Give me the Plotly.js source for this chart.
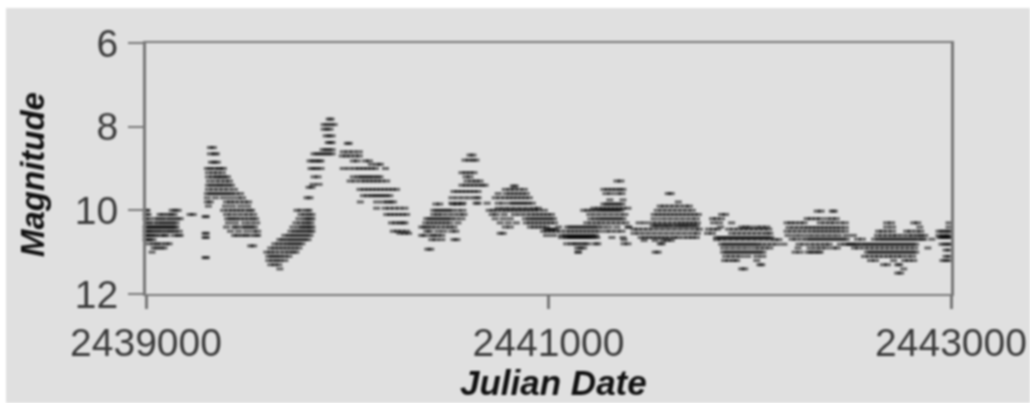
<!DOCTYPE html>
<html><head><meta charset="utf-8">
<script src="https://cdn.plot.ly/plotly-3.0.1.min.js"></script>
<style>
html,body{margin:0;padding:0;background:#fff;overflow:hidden}
#chart{position:absolute;left:6px;top:8px;width:1024px;height:395px;filter:blur(0.8px)}
</style></head><body><div id="chart"></div>
<script>
// Each row: [magnitude, days since JD 2439000 ...]
const jdBase = 2439000;
const tickX = [2439000, 2441000, 2443000];
const tickXLabels = ['2439000', '2441000', '2443000'];
const tickY = [6, 8, 10, 12];
const season1 = [
[10.0,0,5,130,145,160],[10.1,0,10,70,85,110,125,140],[10.2,0,12,45,65,80,100,120,135,155,170],
[10.3,5,15,40,60,75,90,105,120,135,150],[10.4,0,10,20,30,40,50,60,70,80,90,100,110,120,130,140,150],
[10.5,0,10,20,35,50,65,80,100,115,130,145,165],[10.6,0,5,15,25,40,50,75,90,100,140,160,170],
[10.7,0,10,20,35],[10.8,15,40,55,75,100,115],[10.9,40,55,75,90],[11.0,30]];
const season2 = [
[10.1,219,235],[10.15,293,300],[10.55,293,300],[10.65,293,300],[11.13,293,300],
[8.5,320,335],[8.65,320,340,350],[8.85,325,340,355],[9.0,305,320,340,360,370,385],
[9.1,310,335,355,380],[9.2,310,330,350,360,375,390,405],[9.3,315,345,370,395,415],
[9.4,310,325,345,360,375,390,410,425],[9.5,310,335,360,385,410,440],
[9.6,305,320,335,350,365,380,395,410,425,445,470],[9.7,305,345,385,420,455,480],
[9.8,305,320,400,420,440,465,490,510],[9.9,310,395,430,470,505],[10.0,385,410,430,450,470,490,515,525],
[10.1,400,425,455,485,510,535],[10.2,405,420,435,450,470,490,510,530,545],[10.3,410,445,490,520,550],
[10.4,400,440,450,480,495,510,525,540],[10.5,420,460,500,535,555],[10.6,440,455,480,495,515,545,555],
[10.85,520,535]];
const season3 = [
[9.45,810,825],[9.7,800,815],
[10.0,750,770,800,810],[10.1,770,790,810,825],[10.2,760,790,800,815,825],[10.3,745,770,790,805,820],
[10.4,730,760,775,790,800,815,825],[10.5,720,740,755,770,785,800,815,825],
[10.6,690,710,725,740,755,770,785,800,815],[10.7,665,680,700,715,730,745,760,775,790,805],
[10.8,640,660,680,700,715,730,745,760,775],[10.9,620,640,660,680,700,720,740,760],
[11.0,600,620,640,665,690,710,730,745],[11.1,610,625,640,655,670,690,710],
[11.2,610,630,650,665,690],[11.3,620,640,660],[11.4,665],
[9.38,830,860],[9.2,835,855],[9.0,820,835,850,870],[8.82,815,830,845,860,870],
[8.65,835,850,865,880,895,910,925],[8.55,880,895,910,925],[8.38,905,915,925],
[8.22,895,910,925],[8.06,885,900,915],[7.95,885,900,920,935],[7.82,910,920]];
const season4 = [
[8.4,1000,1010],[8.6,980,1005,1030,1060],[8.7,975,995,1015,1040,1060],[8.82,1030,1050,1090,1110],
[8.9,1120,1150,1165],[9.0,980,1010,1040,1060,1080,1100,1120,1140,1190],[9.2,1030,1055,1070,1085,1100,1115,1130,1150,1163],
[9.3,1014,1040,1070,1090,1110,1130,1150,1170,1196],[9.5,1063,1085,1105,1125,1145,1165,1185,1205,1225,1245],
[9.65,1080,1100,1120,1135,1150,1165,1180,1195,1212],[9.8,1065,1146,1180,1200,1215,1230],
[9.95,1146,1188,1210,1235,1260,1287],[10.1,1196,1215,1235,1255,1275,1295],[10.3,1220,1240,1260,1275,1287],
[10.5,1229,1250,1270,1295],[10.55,1262,1285,1305]];
const season5 = [
[9.85,1440,1460,1525,1545,1570],[10.0,1430,1445,1460,1475,1490,1505,1520,1550,1575],
[10.1,1430,1450,1470,1500,1530,1560,1580],[10.2,1395,1410,1425,1440,1455,1470,1485,1500,1515,1540,1570],
[10.3,1390,1410,1430,1450,1470,1490,1510,1550],[10.4,1370,1385,1400,1420,1440,1465,1490,1510,1530],
[10.5,1395,1410,1450,1480,1520,1540],[10.6,1370,1385,1420,1430,1450,1470],[10.7,1420,1440,1470,1530,1545],
[10.93,1400,1415],
[8.68,1610,1625],[8.8,1585,1605,1625,1640],[9.1,1570,1590,1610,1630],[9.2,1590,1610],
[9.3,1595,1620,1640,1660],[9.4,1570,1590,1610,1630,1650,1670,1685],[9.55,1530,1550,1570,1590,1610,1630,1650],
[9.7,1520,1550,1580,1610,1640,1650],[9.83,1520,1550,1575,1640,1650,1695]];
const season6 = [
[9.42,1825,1835],[9.5,1785,1810,1830,1855,1880],[9.6,1750,1790,1810,1830,1850,1870,1890],
[9.7,1735,1760,1785,1805,1825,1845,1865,1885,1905],[9.83,1750,1775,1810,1825,1840,1855,1870,1885,1900,1920],
[9.95,1750,1780,1810,1840,1870,1900,1930,1950],[10.0,1705,1725,1745,1770,1790,1810,1830,1850,1870,1890,1910,1930,1950,1980],
[10.1,1720,1740,1780,1830,1860,1890,1915,1935,1955,1975,1995,2015],[10.2,1735,1775,1810,1885,1905,1920,1935,1950,1965,1980,1995,2010,2025],
[10.3,1760,1800,1840,1890,1910,1930,1950,1970,1990,2010,2030],[10.4,1785,1810,1910,1930,1950,1970,1990],
[10.45,1990,2005,2020,2035],[10.55,1760,1775]];
const season7 = [
[10.4,2050,2095,2110,2125,2140,2155,2170,2185,2200,2215,2230,2245],
[10.5,1975,1995,2015,2035,2060,2090,2110,2130,2150,2170,2190,2210,2230,2250],
[10.6,1990,2025,2065,2085,2100,2115,2130,2145,2160,2175,2190,2205,2220,2235],
[10.65,2065,2090,2100,2110,2120,2130,2140,2150,2160,2170,2180,2190,2200,2210,2225,2240],
[10.8,2090,2115,2130,2145,2165,2180,2195,2232,2245],[10.9,2145,2160,2175],[11.0,2145,2150]];
const season8 = [
[9.3,2340,2360],[9.5,2275,2295,2315,2335,2355,2370],[9.6,2285,2310,2345,2365],[9.75,2305,2370],
[9.85,2275,2290,2305,2320,2335,2350,2365],[9.95,2225,2250,2270,2290,2310,2330,2350,2370,2395],
[10.0,2175,2195,2215,2235,2255,2270,2285,2300,2315,2330,2345,2360],[10.1,2205,2235,2265,2295,2325,2355,2380],
[10.2,2210,2230,2250,2265,2280,2295,2310,2325,2340,2355,2370],[10.3,2190,2215,2240,2260,2285,2310,2335,2360,2385],
[10.4,2270,2300,2340,2395,2400],[10.5,2285,2310,2340,2365],[10.65,2315,2370],[10.7,2375],[10.8,2375,2395]];
const season9 = [
[9.6,2595,2610],[9.8,2645],[9.9,2555,2575,2600,2625,2650,2680,2700],[10.0,2540,2565,2590,2615,2640,2665,2690,2715],
[10.1,2525,2545,2565,2585,2605,2625,2645,2665,2685,2705,2725,2745],[10.2,2525,2560,2590,2620,2650,2680,2710,2735],
[10.3,2450,2480,2515,2540,2565,2590,2615,2640,2660,2680,2700,2720,2740],
[10.37,2520,2535,2550,2570,2585,2600,2620,2640,2655,2670,2685,2700,2720,2735],
[10.45,2425,2445,2470,2495,2520,2550,2580,2610,2640,2670,2700,2730,2750],
[10.55,2425,2450,2480,2510,2540,2570,2600,2630,2660,2690,2720,2740],
[10.65,2460,2480,2500,2520,2540,2560,2580,2600,2625,2640,2670,2695,2715,2735],
[10.72,2475,2530,2570,2590,2610],[10.8,2555,2565],[11.0,2530,2545]];
const season10 = [
[10.1,2860,2880],[10.2,2815,2835,2860],[10.3,2820,2850,2910],[10.4,2855,2960,2980,3000,3035,3060,3085],
[10.45,2795,2820,2840,2895,2920,2945,2970,2995,3020,3045,3070,3095],[10.55,2790,2815,2910,2935,2960,2985,3010,3035,3060,3085,3100],
[10.65,2835,2850,2865,2880,2895,2910,2925,2940,2955,2970,2985,3000,3015,3030,3045,3060,3075,3090,3105],
[10.7,2835,2860,2890,2920,2950,2980,3010,3040,3070,3100,3125,3145],
[10.81,2860,2875,2890,2905,2920,2935,2950,2965,2980,2995,3010,3025,3040,3060,3085,3110,3135,3170],
[10.9,2870,2900,2930,2960,2990,3025,3050,3075,3100],[11.0,2870,2885,2900,2915,2930,2945,2960,2975,2990,3005,3020,3035,3050,3065],
[11.1,2880,2905,2930,2955,2990,3035,3065],[11.2,2875,2895,2920,2935,3035],[11.3,3050,3060],[11.4,2960,2975]];
const season11 = [
[10.02,3335,3355,3410,3420],[10.2,3285,3305,3330,3350,3385,3410,3430],[10.3,3185,3205,3225,3250,3270,3350,3375,3400,3420,3450,3475],
[10.41,3195,3220,3245,3270,3290,3310,3330,3350,3370,3390,3410,3430,3450,3475],
[10.5,3185,3210,3235,3260,3285,3310,3330,3350,3370,3390,3410,3430,3450,3475],
[10.6,3190,3225,3255,3290,3320,3350,3380,3410,3440,3480],
[10.69,3210,3230,3260,3285,3300,3315,3330,3345,3360,3375,3390,3405,3420,3435,3450,3465,3480],
[10.81,3245,3270,3300,3325,3350,3375,3395,3450,3475,3500,3525],[10.9,3240,3300,3330,3355,3380,3415,3435],
[11.0,3225,3250,3290,3305,3320,3340,3350]];
const season12 = [
[10.3,3680,3705,3815,3835],[10.4,3680,3710,3845],[10.5,3640,3660,3685,3710,3780,3800,3830,3850],
[10.6,3515,3635,3660,3685,3710,3730,3760,3790,3810,3835,3850,3870],
[10.69,3535,3560,3620,3640,3655,3670,3685,3700,3715,3730,3745,3760,3775,3790,3805,3820,3835,3855,3865,3905],
[10.81,3490,3510,3535,3555,3570,3585,3600,3615,3630,3645,3660,3675,3690,3705,3720,3735,3750,3765,3780,3795,3810,3825],
[10.9,3520,3540,3570,3595,3620,3645,3670,3695,3720,3745,3770,3795,3820,3885],
[11.0,3585,3600,3615,3630,3645,3660,3675,3690,3705,3720,3735,3750,3765,3780,3795,3810,3825],
[11.1,3570,3595,3620,3640,3665,3690,3710,3735,3755,3785,3810],[11.2,3600,3625,3715,3770,3790,3815],
[11.3,3665,3685,3735,3745],[11.4,3765],[11.5,3735,3750]];
const season13 = [
[10.3,3990],[10.4,3990],[10.5,3940,3955,3970,3985,3995],[10.6,3940,3960,3975,3990],
[10.65,3945,3955,3965,3975,3985,3995],[10.81,3955,3970,3985,3995],[10.95,3975,3990],[11.1,3975,3990],[11.2,3960,3975,3990]];

const seasons = [season1,season2,season3,season4,season5,season6,season7,season8,season9,season10,season11,season12,season13];
const jd = [], mag = [];
seasons.forEach(rows => rows.forEach(r => r.slice(1).forEach(d => { jd.push(jdBase + d); mag.push(r[0]); })));

const INK = '#3a3a3a', LINE = '#777';
Plotly.newPlot('chart', [{
  type: 'scatter', mode: 'markers', x: jd, y: mag, cliponaxis: false,
  marker: {symbol: 'line-ew', size: 5, opacity: 0.55, color: '#000', line: {width: 3, color: '#000'}},
  hoverinfo: 'skip'
}], {
  width: 1024, height: 395,
  margin: {l: 140, r: 79, t: 35, b: 109},
  paper_bgcolor: '#e0e0e0', plot_bgcolor: '#e0e0e0',
  showlegend: false,
  font: {family: '"Liberation Sans", Arial, sans-serif', color: INK},
  xaxis: {
    range: [2439000, 2443000], tickmode: 'array', tickvals: tickX, ticktext: tickXLabels,
    ticks: 'outside', ticklen: 13, tickwidth: 3, tickcolor: LINE, ticklabelstandoff: 0,
    tickfont: {size: 39, color: INK}, showgrid: false, zeroline: false,
    showline: true, mirror: true, linecolor: LINE, linewidth: 2
  },
  yaxis: {
    range: [12, 6], tickmode: 'array', tickvals: tickY,
    ticks: 'outside', ticklen: 15, tickwidth: 2, tickcolor: LINE, ticklabelstandoff: 2,
    tickfont: {size: 39, color: INK}, showgrid: false, zeroline: false,
    showline: true, mirror: true, linecolor: LINE, linewidth: 3
  },
  annotations: [
    {text: '<b><i>Julian Date</i></b>', xref: 'paper', yref: 'paper', x: 0.5062, y: -0.3525, xanchor: 'center', yanchor: 'middle',
     showarrow: false, font: {size: 35, color: '#111'}},
    {text: '<b><i>Magnitude</i></b>', xref: 'paper', yref: 'paper', x: -0.1416, y: 0.4741, xanchor: 'center', yanchor: 'middle',
     textangle: -90, showarrow: false, font: {size: 33, color: '#111'}}
  ]
}, {displayModeBar: false, staticPlot: true});
</script></body></html>
